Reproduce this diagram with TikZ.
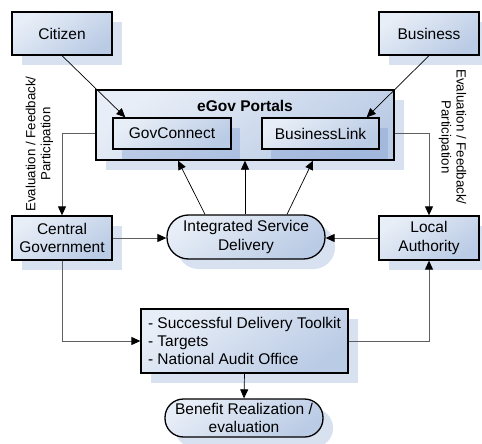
\documentclass[tikz,border=0pt]{standalone}
\usepackage{fontspec}
\setmainfont{Liberation Sans}
\usetikzlibrary{shadows,arrows.meta,calc}
\definecolor{boxtop}{RGB}{232,238,247}
\definecolor{boxbot}{RGB}{186,203,229}
\definecolor{shad}{RGB}{216,225,240}
\definecolor{shadin}{RGB}{120,150,205}
\definecolor{conn}{RGB}{95,95,95}
\tikzset{
  boxbase/.style={draw=black, line width=1.3pt, top color=boxtop, bottom color=boxbot,
    shading angle=35, inner sep=0pt, align=center,
    font=\fontsize{15.5}{18.3}\selectfont},
  sh/.style={general shadow={fill=shad, shadow xshift=10pt, shadow yshift=-10pt}},
  shin/.style={general shadow={fill=shadin, opacity=0.35, shadow xshift=9pt, shadow yshift=-10pt}},
  rect/.style={boxbase, sh, minimum width=#1, minimum height=44pt},
  term/.style={boxbase, sh, rounded corners=21.5pt},
  arr/.style={-{Triangle[length=9pt,width=8pt]}, line width=0.7pt, black},
  garr/.style={draw=conn, line width=1pt, -{Triangle[length=9pt,width=8pt,fill=black]}, arrows={[color=black]}},
  lbl/.style={align=center, font=\fontsize{13.3}{15}\selectfont, inner sep=0pt},
}
\begin{document}
\begin{tikzpicture}[x=1pt,y=-1pt]
\useasboundingbox (0,0) rectangle (482,444);
% nodes
\node[rect=100pt, minimum height=43pt] (citizen) at (62,33.5) {Citizen};
\node[rect=100pt, minimum height=43pt] (business) at (429,33.5) {Business};
\node[boxbase, sh, minimum width=298pt, minimum height=70pt] (egov) at (245,125) {};
\node[font=\fontsize{15.5}{18.3}\selectfont\bfseries, inner sep=0pt] (egovt) at (245,106) {eGov Portals};
\node[boxbase, shin, minimum width=118pt, minimum height=31pt] (gov) at (172,133.5) {GovConnect};
\node[boxbase, shin, minimum width=117pt, minimum height=31pt] (blink) at (320.5,133.5) {BusinessLink};
\node[rect=100pt] (central) at (62,238) {Central\\Government};
\node[rect=100pt] (local) at (429,238) {Local\\Authority};
\node[term, minimum width=158pt, minimum height=44pt] (isd) at (246,237) {Integrated Service\\Delivery};
\node[boxbase, sh, minimum width=207pt, minimum height=64pt, align=left] (succ) at (244.5,341) {- Successful Delivery Toolkit\\- Targets\\- National Audit Office};
\node[term, rounded corners=18.5pt, minimum width=158pt, minimum height=38pt] (benefit) at (244,418) {Benefit Realization /\\evaluation};
% labels
\node[lbl, rotate=90] (lblL) at (39.5,144) {Evaluation / Feedback/\\Participation};
\node[lbl, rotate=-90] (lblR) at (452.5,137) {Evaluation / Feedback/\\Participation};
% connectors
\draw[arr] (citizen.south) -- ($(gov.north west)+(13,0)$);
\draw[arr] (business.south) -- ($(blink.north east)+(-13,0)$);
\draw[garr] (egov.west |- gov.west) -| (central.north);
\draw[garr] (egov.east |- blink.east) -| (local.north);
\draw[arr] ($(isd.north)+(-41,0)$) -- ($(egov.south)+(-67,0)$);
\draw[arr] (isd.north -| egov.south) -- (egov.south);
\draw[arr] ($(isd.north)+(41,0)$) -- ($(egov.south)+(68,0)$);
\draw[garr] (central.east) -- (central.east -| isd.west);
\draw[garr] (local.west) -- (local.west -| isd.east);
\draw[garr] (central.south) |- (succ.west);
\draw[garr] (succ.east) -| (local.south);
\draw[arr] (succ.south) -- (benefit.north);
\end{tikzpicture}
\end{document}
